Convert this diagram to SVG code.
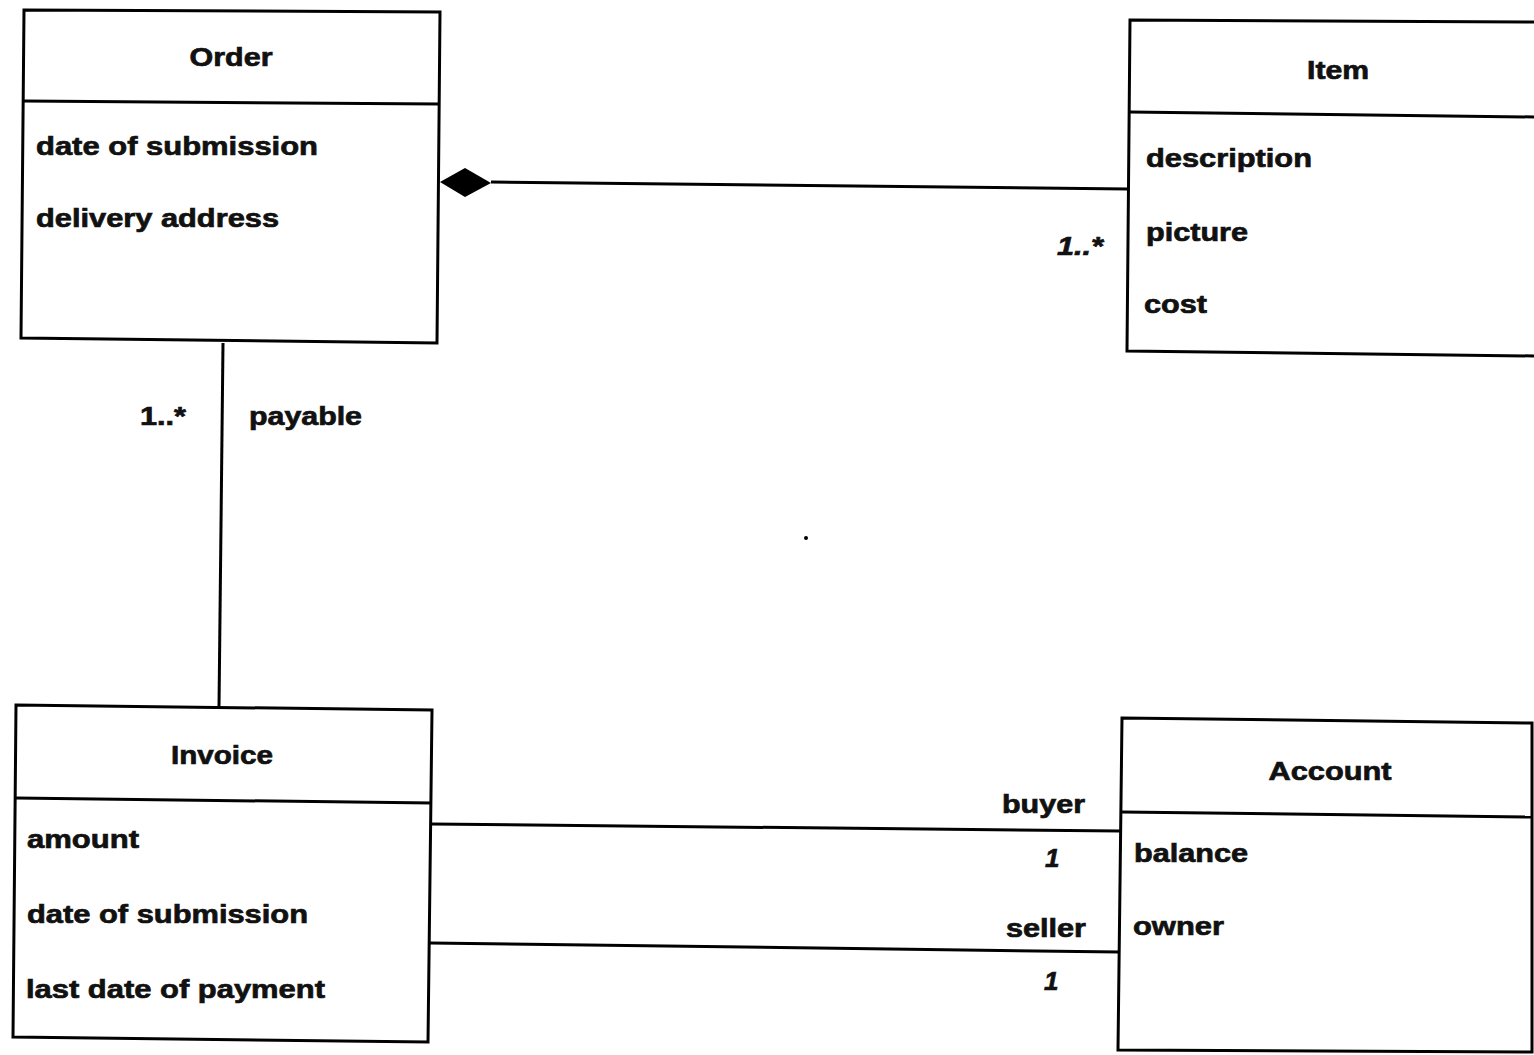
<svg xmlns="http://www.w3.org/2000/svg" width="1534" height="1055" viewBox="0 0 1534 1055">
<style>
.box{fill:none;stroke:#000;stroke-width:3;stroke-linejoin:miter}
.ln{fill:none;stroke:#000;stroke-width:3}
text{font-family:"Liberation Sans",Arial,sans-serif;font-weight:bold;font-size:26px;fill:#111;stroke:#111;stroke-width:0.7}
.t{text-anchor:middle}
.i{font-style:italic}
</style>
<rect width="1534" height="1055" fill="#fff"/>
<g id="order">
<path class="box" d="M24,10 L440,12 L437,343 L21,338 Z"/>
<path class="ln" d="M24,101 L440,104"/>
<text class="t" x="231" y="66" textLength="83" lengthAdjust="spacingAndGlyphs">Order</text>
<text x="36" y="155" textLength="282" lengthAdjust="spacingAndGlyphs">date of submission</text>
<text x="36" y="227" textLength="243" lengthAdjust="spacingAndGlyphs">delivery address</text>
</g>
<g id="item">
<path class="box" d="M1536,22 L1130,20 L1127,351 L1536,356"/>
<path class="ln" d="M1130,112 L1536,117"/>
<text class="t" x="1338" y="79" textLength="62" lengthAdjust="spacingAndGlyphs">Item</text>
<text x="1146" y="167" textLength="166" lengthAdjust="spacingAndGlyphs">description</text>
<text x="1146" y="241" textLength="102" lengthAdjust="spacingAndGlyphs">picture</text>
<text x="1144" y="313" textLength="63" lengthAdjust="spacingAndGlyphs">cost</text>
</g>
<g id="invoice">
<path class="box" d="M16,705 L432,710 L428,1042 L13,1037 Z"/>
<path class="ln" d="M16,798 L432,803"/>
<text class="t" x="222" y="764" textLength="102" lengthAdjust="spacingAndGlyphs">Invoice</text>
<text x="27" y="848" textLength="112" lengthAdjust="spacingAndGlyphs">amount</text>
<text x="27" y="923" textLength="281" lengthAdjust="spacingAndGlyphs">date of submission</text>
<text x="26" y="998" textLength="299" lengthAdjust="spacingAndGlyphs">last date of payment</text>
</g>
<g id="account">
<path class="box" d="M1122,718 L1532,723 L1532,1052 L1118,1050 Z"/>
<path class="ln" d="M1122,812 L1532,817"/>
<text class="t" x="1330" y="780" textLength="123" lengthAdjust="spacingAndGlyphs">Account</text>
<text x="1134" y="862" textLength="114" lengthAdjust="spacingAndGlyphs">balance</text>
<text x="1133" y="935" textLength="91" lengthAdjust="spacingAndGlyphs">owner</text>
</g>
<g id="connectors">
<polygon points="440,182 465,168 491,183 465,197" fill="#000"/>
<path class="ln" d="M491,182 L1128,189"/>
<path class="ln" d="M223,343 L219,707"/>
<path class="ln" d="M431,824 L1120,831"/>
<path class="ln" d="M430,943 L1119,952"/>
<text class="i" x="1057" y="255" textLength="46" lengthAdjust="spacingAndGlyphs">1..*</text>
<text x="140" y="425" textLength="46" lengthAdjust="spacingAndGlyphs">1..*</text>
<text x="249" y="425" textLength="113" lengthAdjust="spacingAndGlyphs">payable</text>
<text x="1002" y="813" textLength="83" lengthAdjust="spacingAndGlyphs">buyer</text>
<text class="i" x="1045" y="867">1</text>
<text x="1006" y="937" textLength="80" lengthAdjust="spacingAndGlyphs">seller</text>
<text class="i" x="1044" y="990">1</text>
</g>
<circle cx="806" cy="538" r="2" fill="#000"/>
</svg>
